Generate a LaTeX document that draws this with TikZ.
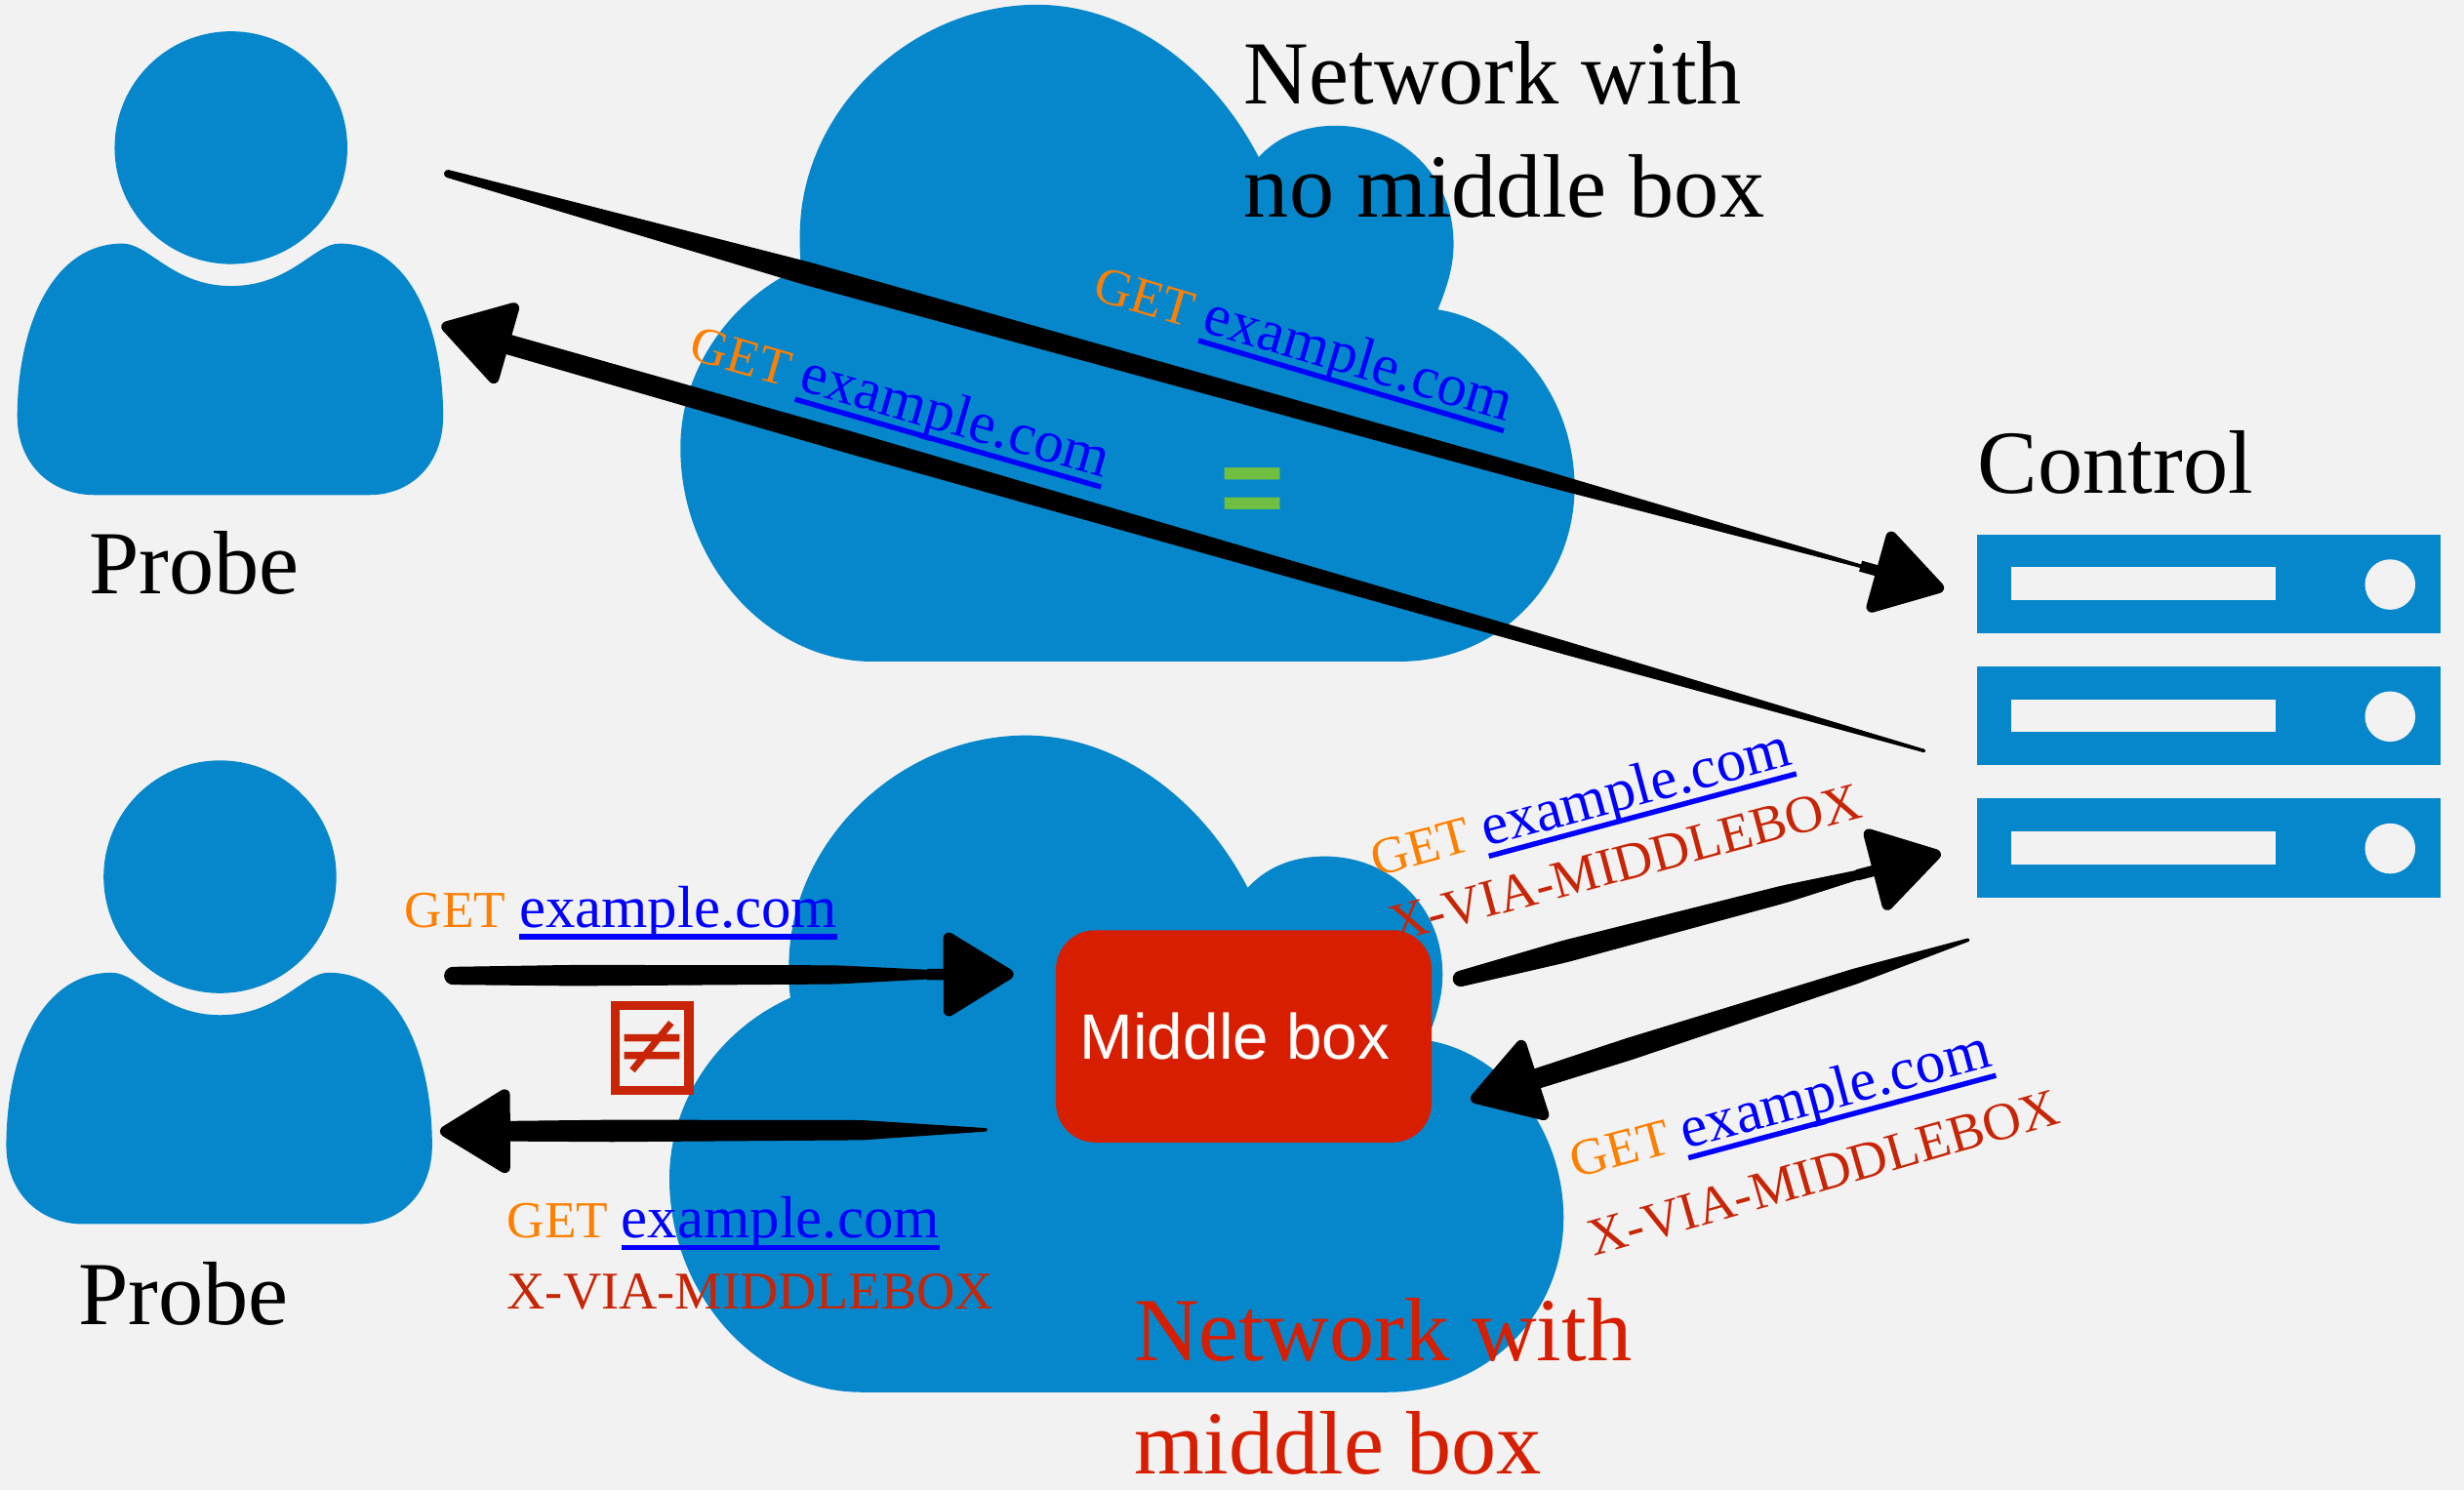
\documentclass[tikz,border=0pt]{standalone}
\usepackage{fontspec}
\setmainfont{Liberation Serif}
\setsansfont{Liberation Sans}
\newfontfamily\symbolfont{DejaVu Sans}
\usetikzlibrary{arrows.meta, calc}
\definecolor{paper}{RGB}{242, 242, 242}
\definecolor{cloudblue}{RGB}{6, 135, 203}
\definecolor{boxred}{RGB}{216, 30, 0}
\definecolor{textred}{RGB}{200, 37, 6}
\definecolor{getorange}{RGB}{255, 127, 0}
\definecolor{linkblue}{RGB}{0, 0, 255}
\definecolor{eqgreen}{RGB}{112, 191, 65}
\tikzset{
  bigtext/.style={font=\fontsize{16.3}{20}\selectfont, anchor=base west, inner sep=0pt},
  reqtext/.style={font=\fontsize{10.75}{12}\selectfont, anchor=base west, inner sep=0pt},
  viatext/.style={font=\fontsize{9.6}{12}\selectfont, anchor=base west, inner sep=0pt, text=textred},
  midbox/.style={fill=boxred, rounded corners=0.25cm, minimum width=2.39cm, minimum height=1.35cm,
    inner sep=0pt, text=white, font=\sffamily\fontsize{11.6}{14}\selectfont},
  brushbody/.style={fill=black, draw=black, line width=.2pt, line join=round},
  brushtip/.style={draw=black, line width=2pt, line join=round,
    -{Triangle[round, length=4.8mm, width=5.7mm]}}
}
\newcommand{\getlink}{{\color{getorange}\fontsize{9.4}{12}\selectfont GET}\hspace{2.4pt}{\color{linkblue}\setbox0\hbox{example.com}\rlap{\rule[-2.2pt]{\wd0}{.95pt}}\box0}}
% from, to, half width at from, at a quarter, at three quarters, at to
\newcommand{\brushstroke}[6]{
  \coordinate (brushend) at ($(#2)!.3cm!(#1)$);
  \coordinate (brushq) at ($(#1)!.25!(brushend)$);
  \coordinate (brushr) at ($(#1)!.75!(brushend)$);
  \path[brushbody, rounded corners=#3] ($(#1)!#3!90:(brushend)$) -- ($(brushq)!#4!90:(brushend)$)
    -- ($(brushr)!#5!90:(brushend)$) -- ($(brushend)!#6!-90:(#1)$)
    -- ($(brushend)!#6!90:(#1)$) -- ($(brushr)!#5!-90:(brushend)$)
    -- ($(brushq)!#4!-90:(brushend)$) -- ($(#1)!#3!-90:(brushend)$) -- cycle;
  \draw[brushtip] ($(#2)!5.5mm!(#1)$) -- (#2);
}
\begin{document}
\begin{tikzpicture}[x=0.01cm, y=-0.01cm]
  \fill[paper] (0, 0) rectangle (1568, 948);
  \useasboundingbox (0, 0) rectangle (1568, 948);

  % Clouds
  \foreach \dx/\dy in {0/0, -7/465} {
    \fill[cloudblue, shift={(\dx, \dy)}] (555, 421) -- (890, 421)
      .. controls (955, 421) and (1002, 370) .. (1002, 310)
      .. controls (1002, 255) and (965, 205) .. (915, 197)
      .. controls (922, 180) and (925, 168) .. (925, 155)
      .. controls (925, 112) and (892, 80) .. (850, 80)
      .. controls (828, 80) and (812, 88) .. (801, 100)
      .. controls (770, 40) and (715, 3) .. (660, 3)
      .. controls (580, 3) and (509, 70) .. (509, 150)
      .. controls (509, 158) and (509, 164) .. (510, 170)
      .. controls (465, 190) and (433, 235) .. (433, 285)
      .. controls (433, 360) and (490, 421) .. (555, 421) -- cycle;
  }

  % Probes
  \foreach \dx/\dy in {0/0, -7/464} {
    \fill[cloudblue, shift={(\dx, \dy)}] (147, 94) circle [radius=0.74cm];
    \fill[cloudblue, shift={(\dx, \dy)}] (60, 315) -- (235, 315)
      .. controls (262, 315) and (282, 295) .. (282, 265)
      .. controls (282, 210) and (262, 155) .. (216, 155)
      .. controls (200, 155) and (185, 182) .. (147, 182)
      .. controls (110, 182) and (95, 155) .. (78, 155)
      .. controls (32, 155) and (11, 210) .. (11, 265)
      .. controls (11, 295) and (32, 315) .. (60, 315) -- cycle;
  }

  % Control
  \foreach \y in {340, 424, 508} {
    \fill[cloudblue] (1258, \y) rectangle (1553, {\y + 63});
    \fill[paper] (1280, {\y + 21}) rectangle (1448, {\y + 42});
    \fill[paper] (1521, {\y + 32}) circle [radius=0.16cm];
  }

  \node[midbox] (middlebox) at (791.5, 659.5) {Middle box\kern3.2pt};

  \node[bigtext] (nettopa) at (791, 66) {Network with};
  \node[bigtext] (nettopb) at (791, 138) {no middle box};
  \node[bigtext, text=boxred] (netbota) at (721, 866) {Network with};
  \node[bigtext, text=boxred] (netbotb) at (721, 938) {middle box};
  \node[bigtext] (probetop) at (56, 378) {Probe};
  \node[bigtext] (probebot) at (49, 843) {Probe};
  \node[bigtext] (control) at (1258, 314) {Control};

  \node[reqtext, rotate=-16.5] (reqa) at (694, 190) {\getlink};
  \node[reqtext, rotate=-16] (reqb) at (437, 228) {\getlink};
  \node[reqtext] (reqc) at (257, 590) {\getlink};
  \node[reqtext] (reqd) at (322, 788) {\getlink};
  \node[viatext] (viad) at (322, 833) {X-VIA-MIDDLEBOX};
  \node[reqtext, rotate=15] (reqe) at (875, 558) {\getlink};
  \node[viatext, rotate=15] (viae) at (887, 600) {X-VIA-MIDDLEBOX};
  \node[reqtext, rotate=15] (reqf) at (1002, 750) {\getlink};
  \node[viatext, rotate=16] (viaf) at (1014, 800) {X-VIA-MIDDLEBOX};

  \node[text=eqgreen, font=\sffamily\bfseries\fontsize{20}{20}\selectfont, inner sep=0pt] (same) at (797, 316) {=};
  \node[draw=textred, line width=1.7pt, text=textred, inner sep=0pt, minimum width=0.46cm, minimum height=0.54cm,
    font=\symbolfont\fontsize{16}{16}\selectfont] (differ) at (415, 667) {≠};

  % Arrows
  \coordinate (topout) at (283, 110);
  \coordinate (topin) at (1237, 375);
  \coordinate (topback) at (1225, 478);
  \coordinate (toptip) at (281, 207);
  \coordinate (botout) at (283, 621);
  \coordinate (botin) at (645, 620);
  \coordinate (botback) at (628, 719);
  \coordinate (bottip) at (280, 720);
  \coordinate (midout) at (925, 624);
  \coordinate (midin) at (1235, 543);
  \coordinate (ctlback) at (1253, 598);
  \coordinate (midtip) at (936, 700);

  \brushstroke{topout}{topin}{.6pt}{2pt}{1.3pt}{.1pt}
  \brushstroke{topback}{toptip}{.2pt}{1.1pt}{1.9pt}{1.7pt}
  \brushstroke{botout}{botin}{1.5pt}{1.8pt}{1.6pt}{.4pt}
  \brushstroke{botback}{bottip}{.2pt}{1.7pt}{1.9pt}{1.7pt}
  \brushstroke{midout}{midin}{1.3pt}{1.9pt}{1.5pt}{.4pt}
  \brushstroke{ctlback}{midtip}{.2pt}{1.3pt}{1.9pt}{1.7pt}
\end{tikzpicture}
\end{document}
